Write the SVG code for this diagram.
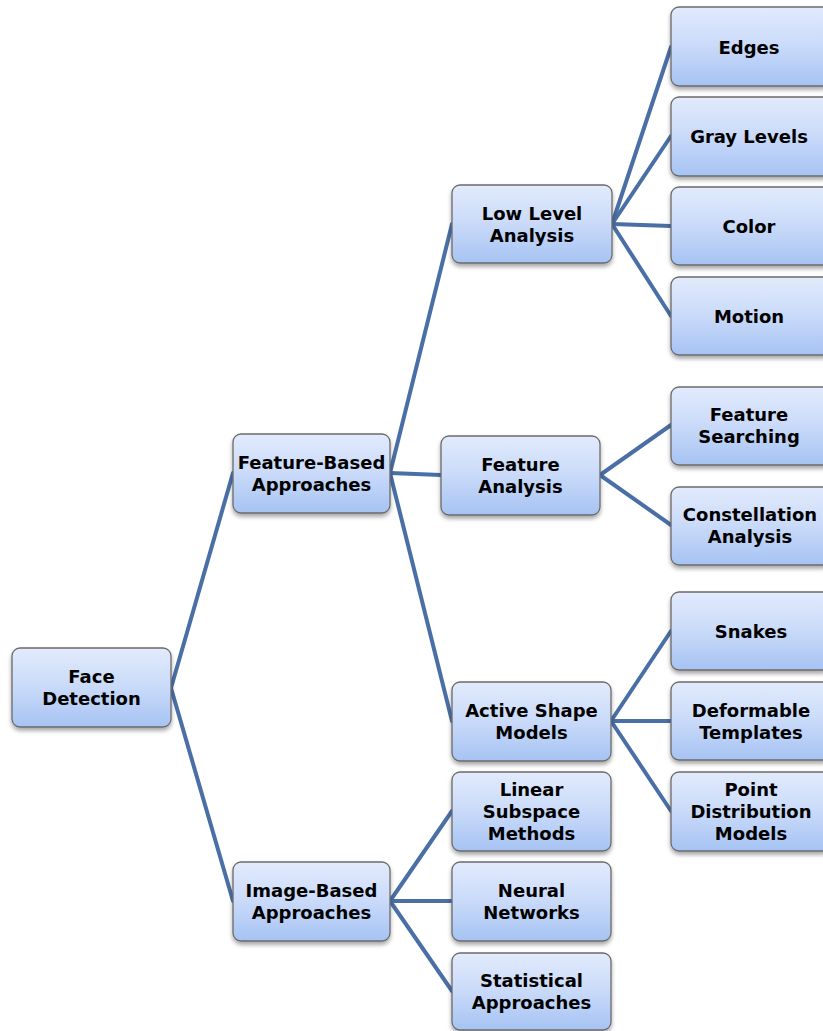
<svg xmlns="http://www.w3.org/2000/svg" width="823" height="1031" viewBox="0 0 823 1031">
<defs>
<linearGradient id="g" x1="0" y1="0" x2="0" y2="1">
<stop offset="0" stop-color="#e2ebfc"/>
<stop offset="0.5" stop-color="#c9daf9"/>
<stop offset="1" stop-color="#a6c3f3"/>
</linearGradient>
<filter id="sh" x="-10%" y="-10%" width="120%" height="130%">
<feDropShadow dx="0" dy="3" stdDeviation="2" flood-color="#000" flood-opacity="0.35"/>
</filter>
<style>
.n rect{fill:url(#g);stroke:#6b6b6b;stroke-width:1.3;filter:url(#sh)}
.n text{font-family:"DejaVu Sans","Liberation Sans",sans-serif;font-weight:bold;font-size:18px;fill:#000;text-anchor:middle}
.c line{stroke:#4a6fa6;stroke-width:4;stroke-linecap:round}
</style>
</defs>
<rect width="823" height="1031" fill="#fff"/>
<g id="connectors" class="c">
<line x1="171" y1="688" x2="233" y2="473"/>
<line x1="171" y1="688" x2="233" y2="901"/>
<line x1="390" y1="473" x2="452" y2="224"/>
<line x1="390" y1="473" x2="441" y2="475"/>
<line x1="390" y1="473" x2="452" y2="721"/>
<line x1="390" y1="901" x2="452" y2="811"/>
<line x1="390" y1="901" x2="452" y2="901"/>
<line x1="390" y1="901" x2="452" y2="991"/>
<line x1="612" y1="224" x2="671" y2="47"/>
<line x1="612" y1="224" x2="671" y2="136"/>
<line x1="612" y1="224" x2="671" y2="226"/>
<line x1="612" y1="224" x2="671" y2="316"/>
<line x1="600" y1="475" x2="671" y2="425"/>
<line x1="600" y1="475" x2="671" y2="525"/>
<line x1="611" y1="721" x2="671" y2="631"/>
<line x1="611" y1="721" x2="671" y2="721"/>
<line x1="611" y1="721" x2="671" y2="811"/>
</g>
<g id="face-detection" class="n"><rect x="12" y="648" width="159" height="79" rx="8"/><text x="91.5" y="683">Face</text><text x="91.5" y="705">Detection</text></g>
<g id="feature-based" class="n"><rect x="233" y="434" width="157" height="79" rx="8"/><text x="311.5" y="469">Feature-Based</text><text x="311.5" y="491">Approaches</text></g>
<g id="image-based" class="n"><rect x="233" y="862" width="157" height="79" rx="8"/><text x="311.5" y="897">Image-Based</text><text x="311.5" y="919">Approaches</text></g>
<g id="low-level" class="n"><rect x="452" y="185" width="160" height="78" rx="8"/><text x="532" y="219.5">Low Level</text><text x="532" y="241.5">Analysis</text></g>
<g id="feature-analysis" class="n"><rect x="441" y="436" width="159" height="79" rx="8"/><text x="520.5" y="471">Feature</text><text x="520.5" y="493">Analysis</text></g>
<g id="active-shape" class="n"><rect x="452" y="682" width="159" height="79" rx="8"/><text x="531.5" y="717">Active Shape</text><text x="531.5" y="739">Models</text></g>
<g id="linear-subspace" class="n"><rect x="452" y="772" width="159" height="79" rx="8"/><text x="531.5" y="796">Linear</text><text x="531.5" y="818">Subspace</text><text x="531.5" y="840">Methods</text></g>
<g id="neural-networks" class="n"><rect x="452" y="862" width="159" height="79" rx="8"/><text x="531.5" y="897">Neural</text><text x="531.5" y="919">Networks</text></g>
<g id="statistical" class="n"><rect x="452" y="953" width="159" height="77" rx="8"/><text x="531.5" y="987">Statistical</text><text x="531.5" y="1009">Approaches</text></g>
<g id="edges" class="n"><rect x="671" y="7" width="160" height="79" rx="8"/><text x="749" y="53.5">Edges</text></g>
<g id="gray-levels" class="n"><rect x="671" y="97" width="160" height="79" rx="8"/><text x="749" y="143">Gray Levels</text></g>
<g id="color" class="n"><rect x="671" y="187" width="160" height="78" rx="8"/><text x="749" y="232.5">Color</text></g>
<g id="motion" class="n"><rect x="671" y="277" width="160" height="78" rx="8"/><text x="749" y="322.5">Motion</text></g>
<g id="feature-searching" class="n"><rect x="671" y="387" width="160" height="78" rx="8"/><text x="749" y="421">Feature</text><text x="749" y="443">Searching</text></g>
<g id="constellation" class="n"><rect x="671" y="487" width="160" height="78" rx="8"/><text x="750" y="521">Constellation</text><text x="750" y="543">Analysis</text></g>
<g id="snakes" class="n"><rect x="671" y="592" width="160" height="78" rx="8"/><text x="751" y="637.5">Snakes</text></g>
<g id="deformable" class="n"><rect x="671" y="682" width="160" height="78" rx="8"/><text x="751" y="716.5">Deformable</text><text x="751" y="738.5">Templates</text></g>
<g id="point-distribution" class="n"><rect x="671" y="772" width="160" height="79" rx="8"/><text x="751" y="795.5">Point</text><text x="751" y="817.5">Distribution</text><text x="751" y="840">Models</text></g>
</svg>
